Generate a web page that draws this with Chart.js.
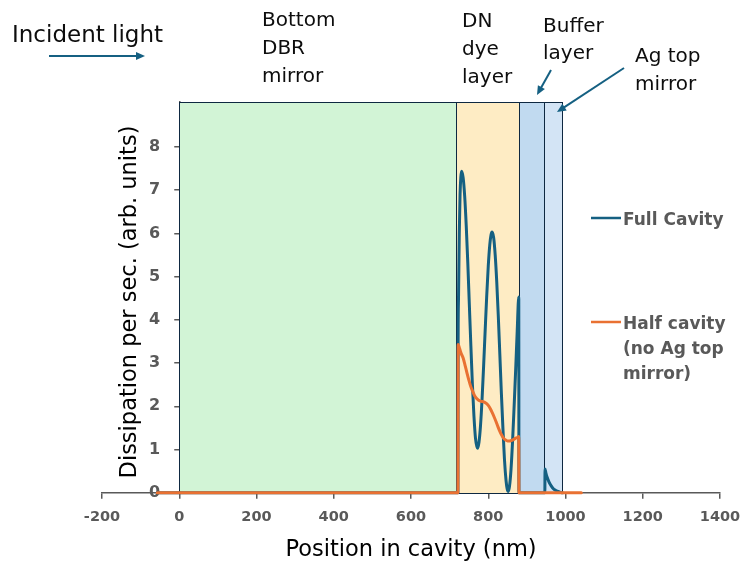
<!DOCTYPE html>
<html>
<head>
<meta charset="utf-8">
<script src="https://cdn.jsdelivr.net/npm/chart.js@4.4.1/dist/chart.umd.min.js"></script>
<style>
  body { margin: 0; background: #fff; }
</style>
</head>
<body>
<canvas id="cavityChart" width="743" height="567"></canvas>
<script>
// Full cavity (with Ag top mirror)
const fullX = [-57, 721.5, 722, 723, 725, 727, 729, 731, 735, 739, 743, 747, 751, 755, 759, 763, 767, 772,
  776, 780, 784, 788, 792, 796, 800, 804, 807, 810, 814, 818, 822, 826, 830, 834, 838, 842, 846, 849, 852,
  855, 859, 863, 867, 871, 875, 879, 879.5, 946.5, 947, 949, 952, 955, 959, 963, 968, 974, 981, 987, 992];
const fullY = [0, 0, 3.45, 4.5, 6.0, 6.9, 7.3, 7.44, 7.29, 6.86, 6.18, 5.33, 4.36, 3.4, 2.5, 1.77, 1.26, 1.03,
  1.17, 1.56, 2.17, 2.93, 3.75, 4.55, 5.24, 5.74, 5.96, 6.03, 5.9, 5.5, 4.88, 4.09, 3.2, 2.3, 1.49, 0.77, 0.29, 0.09, 0.03,
  0.15, 0.55, 1.2, 2.0, 2.85, 3.75, 4.53, 0, 0, 0.55, 0.47, 0.37, 0.3, 0.22, 0.16, 0.1, 0.06, 0.03, 0.01, 0];

// Half cavity (no Ag top mirror)
const halfX = [-57, 721.5, 722, 726, 730, 735, 740, 745, 750, 755, 760, 765, 770, 775, 780, 785, 790, 795,
  800, 805, 810, 815, 820, 825, 830, 835, 840, 845, 850, 855, 860, 865, 870, 875, 879, 879.5, 1041];
const halfY = [0, 0, 3.43, 3.33, 3.22, 3.12, 2.95, 2.77, 2.6, 2.45, 2.34, 2.24, 2.18, 2.14, 2.12, 2.11, 2.1, 2.07,
  2.02, 1.95, 1.86, 1.76, 1.65, 1.53, 1.42, 1.33, 1.26, 1.22, 1.2, 1.2, 1.21, 1.23, 1.26, 1.28, 1.3, 0, 0];

// couches de la cavité (nm)
const layerStart = [0, 716, 880, 945];
const layerEnd = [716, 880, 945, 992];
const layerColours = ['#d2f4d6', '#feecc4', '#c1daf0', '#d3e4f5'];

const legendText = [['Full Cavity'], ['Half cavity', '(no Ag top', 'mirror)']];
const seriesColours = ['#156082', '#E97132'];

const toPoints = (xs, ys) => xs.map((x, i) => ({ x: x, y: ys[i] }));

function arrow(ctx, x1, y1, x2, y2) {
  const a = Math.atan2(y2 - y1, x2 - x1);
  ctx.beginPath();
  ctx.moveTo(x1, y1);
  ctx.lineTo(x2 - 8 * Math.cos(a), y2 - 8 * Math.sin(a));
  ctx.stroke();
  ctx.beginPath();
  ctx.moveTo(x2, y2);
  ctx.lineTo(x2 - 9 * Math.cos(a) + 4 * Math.sin(a), y2 - 9 * Math.sin(a) - 4 * Math.cos(a));
  ctx.lineTo(x2 - 9 * Math.cos(a) - 4 * Math.sin(a), y2 - 9 * Math.sin(a) + 4 * Math.cos(a));
  ctx.closePath();
  ctx.fill();
}

// axe y placé sur x = 0
const yAxisAtZero = {
  id: 'yAxisAtZero',
  afterLayout(chart) {
    const y = chart.scales.y;
    const px = chart.scales.x.getPixelForValue(0);
    y.left = px - 60;
    y.right = px;
  }
};

// fond des couches
const layerPlugin = {
  id: 'layers',
  beforeDatasetsDraw(chart) {
    const { ctx, scales: { x, y } } = chart;
    const top = Math.round(y.getPixelForValue(y.max)) + 0.5;
    const bottom = Math.round(y.getPixelForValue(0)) + 0.5;
    ctx.save();
    layerStart.forEach((s, i) => {
      const l = Math.round(x.getPixelForValue(s)) + 0.5;
      const r = Math.round(x.getPixelForValue(layerEnd[i])) + 0.5;
      ctx.fillStyle = layerColours[i];
      ctx.fillRect(l, top, r - l, bottom - top);
      ctx.strokeStyle = '#0e2841';
      ctx.lineWidth = 1;
      ctx.strokeRect(l, top, r - l, bottom - top);
    });
    ctx.restore();
  }
};

// textes, flèches, légende
const decorPlugin = {
  id: 'decor',
  afterDraw(chart) {
    const ctx = chart.ctx;
    ctx.save();
    ctx.fillStyle = '#0d0d0d';
    ctx.textAlign = 'left';
    ctx.textBaseline = 'alphabetic';
    ctx.font = '23px "DejaVu Sans"';
    ctx.fillText('Incident light', 12, 42);
    ctx.font = '20px "DejaVu Sans"';
    [['Bottom', 26], ['DBR', 54], ['mirror', 82]].forEach(t => ctx.fillText(t[0], 262, t[1]));
    [['DN', 27], ['dye', 55], ['layer', 83]].forEach(t => ctx.fillText(t[0], 462, t[1]));
    [['Buffer', 32], ['layer', 59]].forEach(t => ctx.fillText(t[0], 543, t[1]));
    [['Ag top', 62], ['mirror', 90]].forEach(t => ctx.fillText(t[0], 635, t[1]));

    ctx.strokeStyle = '#156082';
    ctx.fillStyle = '#156082';
    ctx.lineWidth = 2;
    arrow(ctx, 49, 56, 145, 56);
    arrow(ctx, 551, 70, 537, 95);
    arrow(ctx, 624, 68, 557, 112);

    // titre axe y
    ctx.fillStyle = '#000';
    ctx.font = '22.5px "DejaVu Sans"';
    ctx.translate(136, 302);
    ctx.rotate(-Math.PI / 2);
    ctx.textAlign = 'center';
    ctx.fillText('Dissipation per sec. (arb. units)', 0, 0);
    ctx.restore();

    // légende
    ctx.save();
    ctx.font = 'bold 17px "DejaVu Sans"';
    ctx.fillStyle = '#595959';
    const legY = [218, 322];
    legendText.forEach((lines, i) => {
      ctx.strokeStyle = seriesColours[i];
      ctx.lineWidth = 2.5;
      ctx.beginPath();
      ctx.moveTo(591, legY[i]);
      ctx.lineTo(621, legY[i]);
      ctx.stroke();
      lines.forEach((t, j) => ctx.fillText(t, 623, legY[i] + 6.5 + j * 25));
    });
    ctx.restore();
  }
};

new Chart(document.getElementById('cavityChart'), {
  type: 'scatter',
  data: {
    datasets: [{
      label: 'Half cavity (no Ag top mirror)',
      data: toPoints(halfX, halfY),
      borderColor: seriesColours[1],
      borderWidth: 3,
      order: 0
    }, {
      label: 'Full Cavity',
      data: toPoints(fullX, fullY),
      borderColor: seriesColours[0],
      borderWidth: 3,
      order: 1
    }]
  },
  options: {
    responsive: false,
    animation: false,
    showLine: true,
    elements: {
      point: { radius: 0 },
      line: { tension: 0.4, cubicInterpolationMode: 'monotone', borderJoinStyle: 'round', borderCapStyle: 'round' }
    },
    datasets: { scatter: { clip: 6 } },
    layout: { padding: { left: 102, right: 23, top: 102, bottom: 3 } },
    plugins: { legend: { display: false }, tooltip: { enabled: false } },
    scales: {
      x: {
        type: 'linear',
        min: -200,
        max: 1400,
        afterFit: s => { s.paddingLeft = 0; s.paddingRight = 0; },
        ticks: {
          stepSize: 200,
          color: '#595959',
          padding: 10,
          font: { family: 'DejaVu Sans', weight: 'bold', size: 14.5 },
          callback: v => String(v)
        },
        grid: { drawOnChartArea: false, tickLength: 6, color: '#595959', lineWidth: 1.5 },
        border: { color: '#595959', width: 1.5 },
        title: {
          display: true,
          text: 'Position in cavity (nm)',
          color: '#000',
          font: { family: 'DejaVu Sans', size: 22.5 },
          padding: { top: 0.8, bottom: 0 }
        }
      },
      y: {
        type: 'linear',
        position: 'left',
        afterFit: s => { s.width = 0; },
        min: 0,
        max: 9.04,
        ticks: {
          stepSize: 1,
          color: '#595959',
          padding: 14,
          font: { family: 'DejaVu Sans', weight: 'bold', size: 16 },
          callback: v => (v > 8.5 ? null : String(v))
        },
        grid: { drawOnChartArea: false, tickLength: 5, color: '#595959', lineWidth: 1.5 },
        border: { color: '#595959', width: 1.5 }
      }
    }
  },
  plugins: [yAxisAtZero, layerPlugin, decorPlugin]
});
</script>
</body>
</html>
